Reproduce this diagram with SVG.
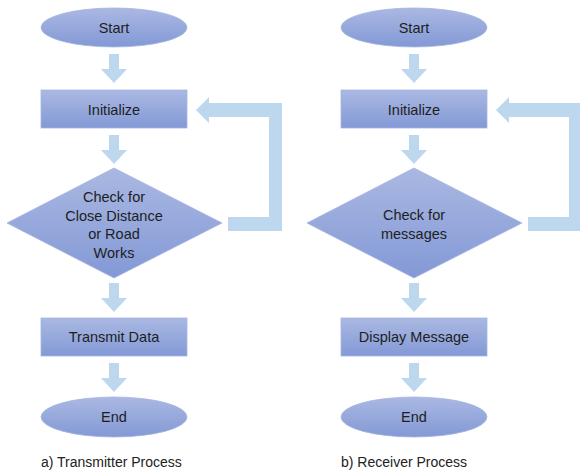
<svg xmlns="http://www.w3.org/2000/svg" xmlns:xlink="http://www.w3.org/1999/xlink" width="580" height="473" viewBox="0 0 580 473">
  <defs>
    <linearGradient id="g" x1="0" y1="0" x2="0" y2="1">
      <stop offset="0" stop-color="#aab8e2"/>
      <stop offset="1" stop-color="#8399d6"/>
    </linearGradient>
    <path id="down" d="M-5,0 H5 V15 H13 L0,29 L-13,15 H-5 Z"/>
    <path id="loop" d="M228,217 H269 V117 H209 V123 L196,110 L209,97 V103 H282 V231 H228 Z"/>
    <style>
      .shape { fill: url(#g); stroke: #a6b5e0; stroke-width: 0.8; }
      .arrow { fill: #bdd7ee; }
      .t { font-family: "Liberation Sans", Arial, sans-serif; font-size: 14.5px; fill: #1e1e1e; text-anchor: middle; }
      .cap { font-family: "Liberation Sans", Arial, sans-serif; font-size: 14px; fill: #222; }
    </style>
  </defs>
  <rect width="580" height="473" fill="#ffffff"/>

  <g id="connectors" class="arrow">
    <use xlink:href="#down" href="#down" x="114" y="54"/>
    <use xlink:href="#down" href="#down" x="114" y="135"/>
    <use xlink:href="#down" href="#down" x="114" y="283"/>
    <use xlink:href="#down" href="#down" x="114" y="363"/>
    <use xlink:href="#loop" href="#loop"/>
    <use xlink:href="#down" href="#down" x="414" y="54"/>
    <use xlink:href="#down" href="#down" x="414" y="135"/>
    <use xlink:href="#down" href="#down" x="414" y="283"/>
    <use xlink:href="#down" href="#down" x="414" y="363"/>
    <use xlink:href="#loop" href="#loop" x="300"/>
  </g>

  <g id="a-start">
    <ellipse class="shape" cx="114" cy="27.5" rx="73" ry="19.5"/>
    <text class="t" x="114" y="33">Start</text>
  </g>
  <g id="a-init">
    <rect class="shape" x="41" y="90" width="146" height="38"/>
    <text class="t" x="114" y="114.5">Initialize</text>
  </g>
  <g id="a-check">
    <polygon class="shape" points="114,168 222,223 114,278 7,223"/>
    <text class="t" x="114" y="202">Check for</text>
    <text class="t" x="114" y="220.5">Close Distance</text>
    <text class="t" x="114" y="239">or Road</text>
    <text class="t" x="114" y="257.5">Works</text>
  </g>
  <g id="a-transmit">
    <rect class="shape" x="41" y="318" width="146" height="38"/>
    <text class="t" x="114" y="342">Transmit Data</text>
  </g>
  <g id="a-end">
    <ellipse class="shape" cx="114" cy="417" rx="73" ry="20"/>
    <text class="t" x="114" y="422">End</text>
  </g>
  <g id="a-caption">
    <text class="cap" x="41" y="467">a) Transmitter Process</text>
  </g>

  <g id="b-start">
    <ellipse class="shape" cx="414" cy="27.5" rx="73" ry="19.5"/>
    <text class="t" x="414" y="33">Start</text>
  </g>
  <g id="b-init">
    <rect class="shape" x="341" y="90" width="146" height="38"/>
    <text class="t" x="414" y="114.5">Initialize</text>
  </g>
  <g id="b-check">
    <polygon class="shape" points="414,168 522,223 414,278 307,223"/>
    <text class="t" x="414" y="220">Check for</text>
    <text class="t" x="414" y="238.5">messages</text>
  </g>
  <g id="b-display">
    <rect class="shape" x="341" y="318" width="146" height="38"/>
    <text class="t" x="414" y="342">Display Message</text>
  </g>
  <g id="b-end">
    <ellipse class="shape" cx="414" cy="417" rx="73" ry="20"/>
    <text class="t" x="414" y="422">End</text>
  </g>
  <g id="b-caption">
    <text class="cap" x="341" y="467">b) Receiver Process</text>
  </g>
</svg>
